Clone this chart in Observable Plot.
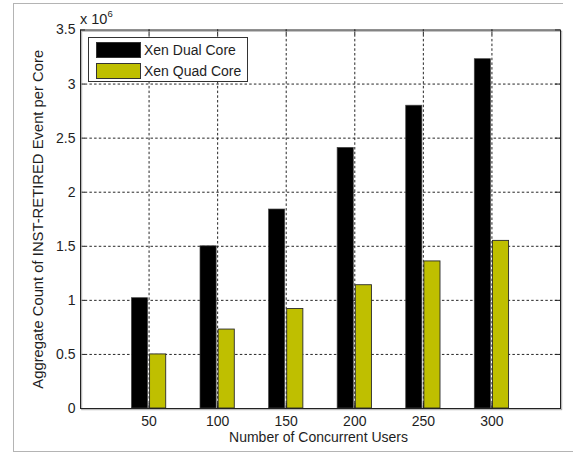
<!DOCTYPE html>
<html>
<head>
<meta charset="utf-8">
<script src="https://cdn.jsdelivr.net/npm/d3@7"></script>
<script src="https://cdn.jsdelivr.net/npm/@observablehq/plot@0.6"></script>
<style>
  html, body { margin: 0; padding: 0; background: #fff; }
  #wrap { position: relative; width: 573px; height: 455px; overflow: hidden;
          font-family: "Liberation Sans", Arial, sans-serif; color: #1e1e1e; }
  #wrap svg { position: absolute; left: 0; top: 0; }
  .edge { position: absolute; background: #b4b4b4; }
  #exp { position: absolute; left: 80px; top: 10px; font-size: 14.5px; line-height: 1; }
  #exp sup { font-size: 9.5px; position: relative; top: -1px; }
  #legend { position: absolute; left: 88px; top: 37px; width: 160px; height: 45px;
            background: #fff; border: 1px solid #333; box-sizing: border-box; }
  .row { position: absolute; left: 7px; height: 16px; display: flex; align-items: center;
         font-size: 14px; white-space: nowrap; }
  .sw { width: 45px; height: 16px; box-sizing: border-box; border: 1px solid #333; margin-right: 3px; }
</style>
</head>
<body>
<div id="wrap">
  <div class="edge" style="left:13px;top:3px;width:550px;height:1px"></div>
  <div class="edge" style="left:13px;top:3px;width:1px;height:449px"></div>
  <div class="edge" style="left:13px;top:451px;width:560px;height:1px"></div>
</div>
<script>
// Number of concurrent users (x categories)
const users = [50, 100, 150, 200, 250, 300];
// Aggregate INST-RETIRED event count per core
const dualCore = [1.02e6, 1.50e6, 1.84e6, 2.41e6, 2.80e6, 3.23e6];
const quadCore = [0.50e6, 0.73e6, 0.92e6, 1.14e6, 1.36e6, 1.55e6];
const seriesNames = ["Xen Dual Core", "Xen Quad Core"];
const seriesColors = ["#000000", "#bfbf00"];
const yTicks = [0, 0.5, 1, 1.5, 2, 2.5, 3, 3.5];
const xTicks = users;
const exponent = 6;
const xLabel = "Number of Concurrent Users";
const yLabel = "Aggregate Count of INST-RETIRED Event per Core";

const width = 573, height = 455;
const mL = 80, mR = 13, mT = 29.5, mB = 47;
const innerW = width - mL - mR, innerH = height - mT - mB;
const tickLen = 5;
const halfGroup = 12.5; // width of one bar, in x units

const rows = users.flatMap((u, i) => [
  {users: u, value: dualCore[i], series: 0},
  {users: u, value: quadCore[i], series: 1}
]);

const grid = {stroke: "#262626", strokeDasharray: "2.5,2.2", strokeWidth: 1};

const chart = Plot.plot({
  width, height,
  marginLeft: mL, marginRight: mR, marginTop: mT, marginBottom: mB,
  style: {fontFamily: "'Liberation Sans', Arial, sans-serif", fontSize: "14px", color: "#1e1e1e", background: "transparent", overflow: "visible"},
  x: {domain: [0, 350], ticks: xTicks, tickSize: 0, tickPadding: 8, label: null},
  y: {domain: [0, 3.5], ticks: yTicks, tickSize: 0, tickPadding: 5, label: null,
      tickFormat: d => String(d)},
  marks: [
    Plot.ruleX(xTicks, {x: d => d, ...grid}),
    Plot.ruleY(yTicks.slice(1, -1), {y: d => d, ...grid}),
    Plot.rectY(rows.filter(d => d.series === 0), {
      x1: d => d.users - halfGroup, x2: d => d.users, y: d => d.value / 10 ** exponent,
      fill: seriesColors[0], stroke: "#444", strokeWidth: 0.7, insetRight: 1
    }),
    Plot.rectY(rows.filter(d => d.series === 1), {
      x1: d => d.users, x2: d => d.users + halfGroup, y: d => d.value / 10 ** exponent,
      fill: seriesColors[1], stroke: "#2a2a2a", strokeWidth: 0.9, insetLeft: 1
    }),
    // inward tick marks on all four sides
    Plot.tickY(yTicks, {y: d => d, stroke: "#222", insetRight: innerW - tickLen}),
    Plot.tickY(yTicks, {y: d => d, stroke: "#222", insetLeft: innerW - tickLen}),
    Plot.tickX(xTicks, {x: d => d, stroke: "#222", insetBottom: innerH - tickLen}),
    Plot.tickX(xTicks, {x: d => d, stroke: "#222", insetTop: innerH - tickLen}),
    Plot.frame({stroke: "#aaa", dx: 1.2, dy: 1.2}),
    Plot.frame({stroke: "#222", strokeWidth: 1}),
    Plot.text([xLabel], {text: d => d, frameAnchor: "bottom", dy: 29, dx: -2,
      lineAnchor: "middle", textAnchor: "middle", fill: "#1e1e1e"}),
    Plot.text([yLabel], {text: d => d, frameAnchor: "left", dx: -42, rotate: -90,
      fontSize: 14.8, lineAnchor: "middle", textAnchor: "middle", fill: "#1e1e1e"})
  ]
});

const wrap = document.getElementById("wrap");
wrap.appendChild(chart);

// exponent label above the y axis
const exp = document.createElement("div");
exp.id = "exp";
exp.innerHTML = `x 10<sup>${exponent}</sup>`;
wrap.appendChild(exp);

// legend box in the upper-left corner of the axes
const legend = document.createElement("div");
legend.id = "legend";
seriesNames.forEach((name, i) => {
  const row = document.createElement("div");
  row.className = "row";
  row.style.top = (i === 0 ? 4 : 25) + "px";
  const sw = document.createElement("div");
  sw.className = "sw";
  sw.style.background = seriesColors[i];
  row.appendChild(sw);
  row.appendChild(document.createTextNode(name));
  legend.appendChild(row);
});
wrap.appendChild(legend);
</script>
</body>
</html>
